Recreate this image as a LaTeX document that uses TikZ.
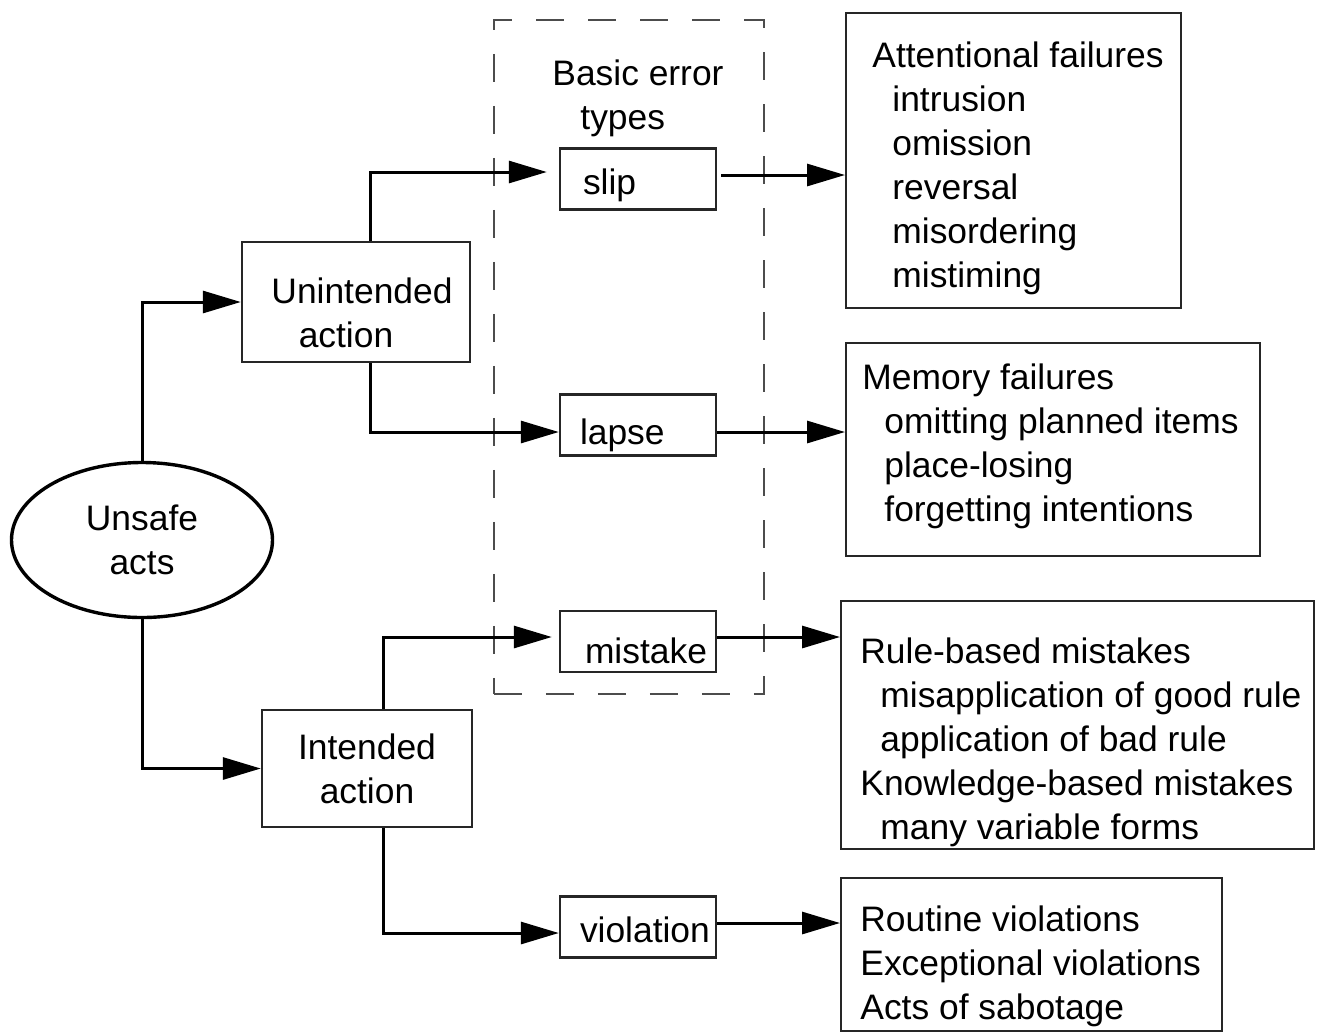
\documentclass[tikz,border=0pt]{standalone}
\usepackage{fontspec}
\setmainfont{Liberation Sans}
\usetikzlibrary{shapes.geometric,arrows.meta}
\begin{document}
\begin{tikzpicture}[x=0.5pt,y=-0.5pt,
  every node/.style={font=\fontsize{17.7pt}{22pt}\selectfont, text=black},
  arr/.style={-{Triangle[length=19pt,width=11pt]}, line width=1.5pt},
  bx/.style={rectangle, draw=black!85, line width=1.2pt},
  smallbox/.style={bx, minimum width=78pt, minimum height=30.5pt, text width=58pt,
    text height=18pt, text depth=3pt,
    align=left, inner xsep=10pt, inner ysep=0pt},
  bigbox/.style={bx, anchor=north west, inner sep=0pt},
  listtext/.style={anchor=west, align=left, inner sep=0pt},
]
\fill[white] (0,0) rectangle (1327,1035);
\useasboundingbox (0,0) rectangle (1327,1035);

% dashed group
\node[draw=black!70, line width=0.9pt, dash pattern=on 14pt off 12pt,
  minimum width=135pt, minimum height=337pt, anchor=north west, inner sep=0pt] (grp) at (493,19) {};
\node[anchor=west, align=left, inner sep=0pt] (title) at (552,98) {Basic error\\\hspace*{14pt}types};

% main nodes
\node[ellipse, draw, line width=1.7pt, minimum width=130.5pt, minimum height=77.5pt,
  align=center, inner sep=0pt] (acts) at (142,540) {Unsafe\\acts};
\node[bx, minimum width=114pt, minimum height=60pt, align=center, inner sep=0pt] (ua) at (356,302) {\rule{0pt}{24pt}\hspace*{6pt}Unintended\\action\hspace*{10pt}};
\node[bx, minimum width=105pt, minimum height=58.5pt, align=center, inner sep=0pt] (ia) at (367,768.5) {Intended\\action};

% basic error types
\node[smallbox] (slip) at (638,179) {\mbox{\hspace*{1.5pt}slip}};
\node[smallbox] (lapse) at (638,425) {\mbox{\raisebox{-2pt}{lapse}}};
\node[smallbox] (mistake) at (638,641.5) {\mbox{\hspace*{2.5pt}\raisebox{-3.5pt}{mistake}}};
\node[smallbox] (violation) at (638,927) {\mbox{violation}};

% right boxes
\node[bigbox, minimum width=167.5pt, minimum height=147.5pt] (att) at (845,12) {};
\node[listtext] (atttext) at (872,168) {Attentional failures\\\hspace*{10pt}intrusion\\\hspace*{10pt}omission\\\hspace*{10pt}reversal\\\hspace*{10pt}misordering\\\hspace*{10pt}mistiming};

\node[bigbox, minimum width=207pt, minimum height=106.5pt] (mem) at (845,342) {};
\node[listtext] (memtext) at (862,446) {Memory failures\\\hspace*{11pt}omitting planned items\\\hspace*{11pt}place-losing\\\hspace*{11pt}forgetting intentions};

\node[bigbox, minimum width=236.5pt, minimum height=124pt] (rule) at (840,600) {};
\node[listtext] (ruletext) at (860,742) {Rule-based mistakes\\\hspace*{10pt}misapplication of good rule\\\hspace*{10pt}application of bad rule\\Knowledge-based mistakes\\\hspace*{10pt}many variable forms};

\node[bigbox, minimum width=190.5pt, minimum height=76.5pt] (rout) at (840,877) {};
\node[listtext] (routtext) at (860,966) {Routine violations\\Exceptional violations\\Acts of sabotage};

% connectors from unsafe acts
\draw[arr] (acts.north) |- (ua.west);
\draw[arr] (acts.south) |- (ia.west);

% from unintended / intended action
\draw[arr] ([xshift=65pt]ua.north west) |- ([yshift=3.5pt,xshift=-6pt]slip.west);
\draw[arr] ([xshift=65pt]ua.south west) |- ([yshift=-3.5pt]lapse.west);
\draw[arr] ([xshift=61.5pt]ia.north west) |- ([yshift=2.25pt,xshift=-3.5pt]mistake.west);
\draw[arr] ([xshift=61.5pt]ia.south west) |- ([yshift=-3pt]violation.west);

% to right boxes
\coordinate (s1) at ([yshift=2pt,xshift=2pt]slip.east);
\coordinate (l1) at ([yshift=-3.5pt]lapse.east);
\coordinate (m1) at ([yshift=2.25pt]mistake.east);
\coordinate (v1) at ([yshift=2pt]violation.east);
\draw[arr] (s1) -- (s1 -| att.west);
\draw[arr] (l1) -- (l1 -| mem.west);
\draw[arr] (m1) -- (m1 -| rule.west);
\draw[arr] (v1) -- (v1 -| rout.west);
\end{tikzpicture}
\end{document}
